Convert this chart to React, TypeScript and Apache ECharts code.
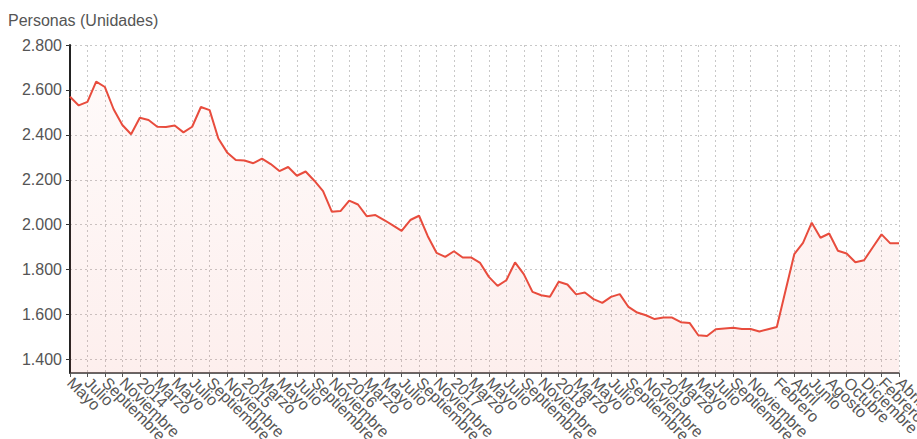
import React, { useEffect, useRef } from "react";
import * as echarts from "echarts";

const yAxisTitle = "Personas (Unidades)";

const categories: string[] = [
  "Mayo", "Junio", "Julio", "Agosto", "Septiembre", "Octubre", "Noviembre", "Diciembre",
  "2014", "Febrero", "Marzo", "Abril", "Mayo", "Junio", "Julio", "Agosto", "Septiembre", "Octubre", "Noviembre", "Diciembre",
  "2015", "Febrero", "Marzo", "Abril", "Mayo", "Junio", "Julio", "Agosto", "Septiembre", "Octubre", "Noviembre", "Diciembre",
  "2016", "Febrero", "Marzo", "Abril", "Mayo", "Junio", "Julio", "Agosto", "Septiembre", "Octubre", "Noviembre", "Diciembre",
  "2017", "Febrero", "Marzo", "Abril", "Mayo", "Junio", "Julio", "Agosto", "Septiembre", "Octubre", "Noviembre", "Diciembre",
  "2018", "Febrero", "Marzo", "Abril", "Mayo", "Junio", "Julio", "Agosto", "Septiembre", "Octubre", "Noviembre", "Diciembre",
  "2019", "Febrero", "Marzo", "Abril", "Mayo", "Junio", "Julio", "Agosto", "Septiembre", "Octubre", "Noviembre", "Diciembre",
  "2020", "Febrero", "Marzo", "Abril", "Mayo", "Junio", "Julio", "Agosto", "Septiembre", "Octubre", "Noviembre", "Diciembre",
  "2021", "Febrero", "Marzo", "Abril",
];

const personas: number[] = [
  2570, 2531, 2547, 2637, 2613, 2514, 2444, 2403,
  2476, 2466, 2436, 2435, 2442, 2411, 2436, 2524, 2510, 2384, 2322, 2288,
  2286, 2274, 2294, 2270, 2239, 2257, 2218, 2237, 2196, 2150, 2058, 2061,
  2107, 2090, 2038, 2043, 2021, 1997, 1973, 2021, 2040, 1949, 1875, 1857,
  1882, 1854, 1854, 1830, 1768, 1728, 1753, 1832, 1780, 1701, 1686, 1679,
  1746, 1734, 1690, 1698, 1669, 1652, 1679, 1691, 1634, 1609, 1597, 1580,
  1587, 1587, 1566, 1563, 1508, 1505, 1535, 1538, 1541, 1536, 1536, 1525,
  1535, 1545, 1707, 1869, 1919, 2009, 1942, 1961, 1884, 1872, 1833, 1842,
  1900, 1957, 1917, 1917,
];

// indices of categories that carry a tick, label and vertical grid line
const labeledIndices: number[] = [
  0, 2, 4, 6, 8, 10, 12, 14, 16, 18, 20, 22, 24, 26, 28, 30, 32, 34, 36, 38,
  40, 42, 44, 46, 48, 50, 52, 54, 56, 58, 60, 62, 64, 66, 68, 70, 72, 74, 76, 78,
  81, 83, 85, 87, 89, 91, 93, 95,
];

const yTicks: number[] = [1400, 1600, 1800, 2000, 2200, 2400, 2600, 2800];
const yMin = 1340;
const yMax = 2800;

const FONT = 'Arial, "Liberation Sans", sans-serif';

function fmt(v: number): string {
  const th = Math.floor(v / 1000);
  const rest = String(Math.round(v % 1000)).padStart(3, "0");
  return `${th}.${rest}`;
}

export default function App() {
  const ref = useRef<HTMLDivElement>(null);

  useEffect(() => {
    document.body.style.margin = "0";
    if (!ref.current) return;
    const chart = echarts.init(ref.current, undefined, { renderer: "svg" });
    const labeled = new Set(labeledIndices);
    const showAt = (i: number) => labeled.has(i);

    chart.setOption({
      animation: false,
      backgroundColor: "#ffffff",
      title: {
        text: yAxisTitle,
        left: 3,
        top: 7,
        textStyle: { fontSize: 16, fontWeight: "normal", color: "#555", fontFamily: FONT },
      },
      grid: {
        left: 70,
        right: 18,
        top: 45,
        bottom: 66,
        containLabel: false,
        outerBoundsMode: "none",
      },
      xAxis: {
        type: "category",
        data: categories,
        boundaryGap: false,
        axisLine: { show: true, lineStyle: { color: "#333", width: 1.5 } },
        axisTick: { show: true, interval: showAt, length: 4, lineStyle: { color: "#555" } },
        axisLabel: {
          interval: 0,
          formatter: (v: string, i: number) => (labeled.has(i) ? v : ""),
          hideOverlap: false,
          rotate: -45,
          margin: 7,
          fontSize: 16,
          color: "#555",
          fontFamily: FONT,
        },
        splitLine: {
          show: true,
          interval: showAt,
          lineStyle: { color: "#c8c8c8", type: [2, 3], width: 1 },
        },
      },
      yAxis: {
        type: "value",
        min: yMin,
        max: yMax,
        axisLine: { show: true, lineStyle: { color: "#222", width: 2 } },
        axisTick: { show: true, length: 4, customValues: yTicks, lineStyle: { color: "#333" } },
        axisLabel: {
          customValues: yTicks,
          formatter: (v: number) => fmt(v),
          fontSize: 16,
          color: "#555",
          margin: 8,
          fontFamily: FONT,
        },
        splitLine: {
          show: true,
          lineStyle: { color: "#c8c8c8", type: [2, 3], width: 1 },
        },
      },
      series: [
        {
          type: "line",
          data: personas,
          showSymbol: false,
          symbol: "none",
          lineStyle: { color: "#e84c3d", width: 2 },
          itemStyle: { color: "#e84c3d" },
          areaStyle: {
            color: new echarts.graphic.LinearGradient(0, 0, 0, 1, [
              { offset: 0, color: "rgba(232,76,61,0.04)" },
              { offset: 1, color: "rgba(232,76,61,0.13)" },
            ]),
          },
        },
      ],
    });
    return () => chart.dispose();
  }, []);

  return <div ref={ref} style={{ width: 917, height: 439 }} />;
}
